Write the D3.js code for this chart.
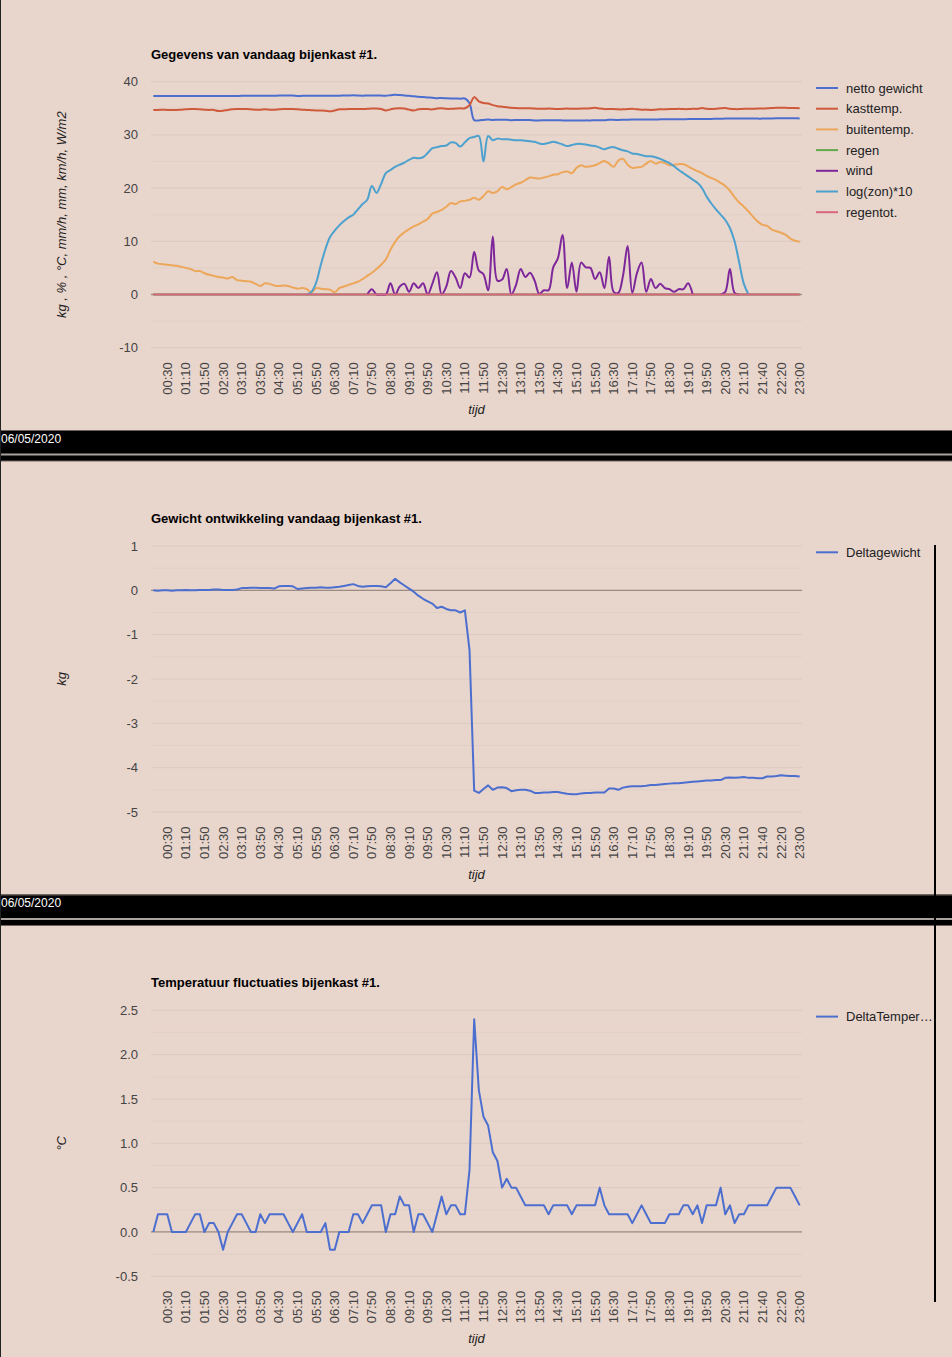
<!DOCTYPE html>
<html><head><meta charset="utf-8">
<script src="https://cdn.jsdelivr.net/npm/d3@7"></script>
<style>
html,body{margin:0;padding:0;background:#e8d5cc;}
svg{display:block;}
</style></head>
<body><svg id="c" width="952" height="1357"></svg>
<script>
// ---------- DATA ----------
const times = [
"00:00","00:10","00:20","00:30","00:40","00:50",
"01:00","01:10","01:20","01:30","01:40","01:50",
"02:00","02:10","02:20","02:30","02:40","02:50",
"03:00","03:10","03:20","03:30","03:40","03:50",
"04:00","04:10","04:20","04:30","04:40","04:50",
"05:00","05:10","05:20","05:30","05:40","05:50",
"06:00","06:10","06:20","06:30","06:40","06:50",
"07:00","07:10","07:20","07:30","07:40","07:50",
"08:00","08:10","08:20","08:30","08:40","08:50",
"09:00","09:10","09:20","09:30","09:40","09:50",
"10:00","10:10","10:20","10:30","10:40","10:50",
"11:00","11:10","11:20","11:30","11:40","11:50",
"12:00","12:10","12:20","12:30","12:40","12:50",
"13:00","13:10","13:20","13:30","13:40","13:50",
"14:00","14:10","14:20","14:30","14:40","14:50",
"15:00","15:10","15:20","15:30","15:40","15:50",
"16:00","16:10","16:20","16:30","16:40","16:50",
"17:00","17:10","17:20","17:30","17:40","17:50",
"18:00","18:10","18:20","18:30","18:40","18:50",
"19:00","19:10","19:20","19:30","19:40","19:50",
"20:00","20:10","20:20","20:30","20:40","20:50",
"21:00","21:10","21:20","21:25","21:30","21:40","21:50",
"22:00","22:10","22:20","22:30","22:40","22:50","23:00"];

const xTickLabels = ["00:30","01:10","01:50","02:30","03:10","03:50","04:30","05:10","05:50",
"06:30","07:10","07:50","08:30","09:10","09:50","10:30","11:10","11:50","12:30","13:10",
"13:50","14:30","15:10","15:50","16:30","17:10","17:50","18:30","19:10","19:50","20:30",
"21:10","21:40","22:20","23:00"];

const nettoGewicht = [
37.3,37.29,37.3,37.3,37.29,37.3,37.3,37.31,37.3,37.3,
37.31,37.31,37.31,37.32,37.32,37.31,37.31,37.31,37.32,37.35,
37.35,37.36,37.36,37.35,37.35,37.35,37.34,37.39,37.4,37.4,
37.39,37.33,37.34,37.35,37.36,37.36,37.37,37.36,37.36,37.37,
37.38,37.4,37.42,37.44,37.4,37.38,37.39,37.4,37.4,37.39,
37.37,37.46,37.56,37.48,37.41,37.34,37.27,37.18,37.11,37.05,
37.0,36.9,36.93,36.88,36.85,36.85,36.8,36.85,35.95,32.78,
32.73,32.82,32.9,32.8,32.85,32.86,32.84,32.77,32.79,32.8,
32.8,32.78,32.73,32.73,32.74,32.74,32.75,32.75,32.73,32.71,
32.7,32.7,32.72,32.73,32.73,32.74,32.74,32.74,32.83,32.83,
32.8,32.85,32.87,32.88,32.88,32.88,32.89,32.91,32.91,32.92,
32.93,32.94,32.95,32.95,32.96,32.97,32.98,32.99,33.0,33.01,
33.01,33.02,33.02,33.07,33.08,33.07,33.08,33.09,33.07,33.07,
33.06,33.06,33.1,33.1,33.11,33.13,33.12,33.11,33.11,33.1];

const kastTemp = [
34.7,34.7,34.75,34.7,34.7,34.7,34.75,34.8,34.85,34.85,
34.8,34.75,34.7,34.7,34.5,34.55,34.7,34.8,34.85,34.85,
34.85,34.8,34.75,34.75,34.8,34.75,34.75,34.8,34.85,34.85,
34.85,34.8,34.75,34.7,34.65,34.6,34.6,34.55,34.45,34.6,
34.8,34.8,34.85,34.85,34.85,34.85,34.9,34.95,34.95,34.85,
34.6,34.8,34.95,35.0,34.95,34.75,34.6,34.8,34.85,34.85,
34.8,34.95,35.0,34.9,34.9,34.95,35.0,35.0,35.6,37.1,
36.3,36.0,35.9,35.6,35.4,35.3,35.2,35.1,35.05,35.0,
35.0,35.0,34.95,34.9,34.9,34.95,34.9,34.85,34.9,34.95,
34.9,34.9,34.95,34.95,35.0,35.1,34.95,34.85,34.85,34.85,
34.8,34.8,34.85,34.9,34.8,34.75,34.75,34.7,34.75,34.8,
34.8,34.85,34.85,34.9,34.85,34.85,34.9,34.9,35.05,34.9,
34.85,34.9,35.0,35.05,34.9,34.85,34.85,34.9,34.9,34.9,
34.95,34.95,35.0,35.05,35.1,35.1,35.1,35.05,35.05,35.0];

const buitenTemp = [
6.2,5.8,5.7,5.6,5.5,5.4,5.2,5.0,4.8,4.4,
4.4,4.0,3.7,3.5,3.3,3.2,3.0,3.3,2.7,2.6,
2.5,2.4,2.0,1.6,2.1,2.0,1.7,1.6,1.7,1.6,
1.3,1.1,1.2,1.0,0.4,1.2,1.1,1.0,0.9,0.4,
1.2,1.5,1.8,2.1,2.4,2.9,3.5,4.1,4.8,5.6,
6.6,8.4,9.9,11.0,11.7,12.3,12.8,13.2,13.7,14.2,
15.2,15.5,15.9,16.5,17.2,17.0,17.5,17.6,17.8,18.2,
17.8,18.5,19.4,19.1,19.4,20.2,19.8,20.2,20.7,21.0,
21.5,22.0,21.9,21.8,22.0,22.2,22.5,22.6,23.0,23.1,
22.8,23.8,24.3,24.0,24.1,24.3,24.7,25.1,24.6,24.0,
25.2,25.5,24.4,23.8,23.9,24.0,24.6,25.1,24.6,24.9,
24.7,24.3,24.4,24.5,24.5,24.1,23.6,23.2,22.8,22.3,
21.9,21.5,21.0,20.4,19.5,18.3,17.3,16.5,15.6,14.6,
13.7,13.1,12.9,12.2,11.9,11.6,11.2,10.5,10.1,9.9];

const regen = [
0,0,0,0,0,0,0,0,0,0, 0,0,0,0,0,0,0,0,0,0, 0,0,0,0,0,0,0,0,0,0, 0,0,0,0,0,0,0,0,0,0,
0,0,0,0,0,0,0,0,0,0, 0,0,0,0,0,0,0,0,0,0, 0,0,0,0,0,0,0,0,0,0, 0,0,0,0,0,0,0,0,0,0,
0,0,0,0,0,0,0,0,0,0, 0,0,0,0,0,0,0,0,0,0, 0,0,0,0,0,0,0,0,0,0, 0,0,0,0,0,0,0,0,0,0,
0,0,0,0,0,0,0,0,0,0, 0,0,0,0,0,0,0,0,0,0];

const wind = [
null,null,null,null,null,null,null,null,null,null,
null,null,null,null,null,null,null,null,null,null,
null,null,null,null,null,null,null,null,null,null,
null,null,null,null,null,null,null,null,null,null,
null,null,null,null,null,null,0,1.0,0,0,
0,2.1,0,1.5,2.0,0.5,2.1,1.2,2.1,0,
2.0,4.2,0,1.5,4.4,3.2,1.2,4.0,3.2,8.0,
4.5,3.8,0.8,10.9,2.6,2.8,4.8,0,1.8,4.8,
3.3,4.1,2.6,0.1,0.8,0.8,5.1,6.8,11.2,1.2,
6.0,0.5,6.0,5.1,5.0,2.9,4.2,1.2,7.1,0.5,
0.3,3.5,9.1,0.3,4.0,6.0,0.5,2.9,1.2,2.0,
1.2,1.0,0.5,1.0,1.0,2.1,0,null,null,null,
null,null,0,0.5,4.8,0.3,0,null,null,null,
null,null,null,null,null,null,null,null,null,null];

const logZon = [
null,null,null,null,null,null,null,null,null,null,
null,null,null,null,null,null,null,null,null,null,
null,null,null,null,null,null,null,null,null,null,
null,null,null,0,0.5,2.2,5.5,8.5,10.8,12.0,
13.0,13.8,14.5,15.0,16.0,17.0,17.8,20.4,19.1,20.8,
22.8,23.4,24.0,24.4,24.8,25.3,25.7,25.6,25.8,26.6,
27.5,27.7,27.9,28.0,28.6,28.5,27.8,28.6,29.4,29.6,
29.8,25.0,29.8,29.0,29.3,29.2,29.2,29.1,29.0,29.0,
28.9,28.8,28.7,28.4,28.3,28.5,28.7,28.5,28.2,27.9,
28.1,28.3,28.3,28.2,28.0,27.9,27.6,27.3,27.6,27.7,
27.4,27.1,26.9,26.5,26.4,26.2,26.0,26.0,25.8,25.5,
25.1,24.7,24.1,23.4,22.8,22.2,21.6,21.0,20.0,18.4,
17.1,16.0,15.0,14.0,12.5,10.0,6.0,2.0,0,null,
null,null,null,null,null,null,null,null,null,null];

const regenTot = [
0,0,0,0,0,0,0,0,0,0, 0,0,0,0,0,0,0,0,0,0, 0,0,0,0,0,0,0,0,0,0, 0,0,0,0,0,0,0,0,0,0,
0,0,0,0,0,0,0,0,0,0, 0,0,0,0,0,0,0,0,0,0, 0,0,0,0,0,0,0,0,0,0, 0,0,0,0,0,0,0,0,0,0,
0,0,0,0,0,0,0,0,0,0, 0,0,0,0,0,0,0,0,0,0, 0,0,0,0,0,0,0,0,0,0, 0,0,0,0,0,0,0,0,0,0,
0,0,0,0,0,0,0,0,0,0, 0,0,0,0,0,0,0,0,0,0];

const deltaGewicht = [
0.0,-0.01,0.0,0.0,-0.01,0.0,0.0,0.01,0.0,0.0,
0.01,0.01,0.01,0.02,0.02,0.01,0.01,0.01,0.02,0.05,
0.05,0.06,0.06,0.05,0.05,0.05,0.04,0.09,0.1,0.1,
0.09,0.03,0.04,0.05,0.06,0.06,0.07,0.06,0.06,0.07,
0.08,0.1,0.12,0.14,0.1,0.08,0.09,0.1,0.1,0.09,
0.07,0.16,0.26,0.18,0.11,0.04,-0.03,-0.12,-0.19,-0.25,
-0.3,-0.4,-0.37,-0.42,-0.45,-0.45,-0.5,-0.45,-1.35,-4.52,
-4.57,-4.48,-4.40,-4.5,-4.45,-4.44,-4.46,-4.53,-4.51,-4.5,
-4.5,-4.52,-4.57,-4.57,-4.56,-4.56,-4.55,-4.55,-4.57,-4.59,
-4.6,-4.6,-4.58,-4.57,-4.57,-4.56,-4.56,-4.56,-4.47,-4.47,
-4.5,-4.45,-4.43,-4.42,-4.42,-4.42,-4.41,-4.39,-4.39,-4.38,
-4.37,-4.36,-4.35,-4.35,-4.34,-4.33,-4.32,-4.31,-4.3,-4.29,
-4.29,-4.28,-4.28,-4.23,-4.22,-4.23,-4.22,-4.21,-4.23,-4.23,
-4.24,-4.24,-4.2,-4.2,-4.19,-4.17,-4.18,-4.19,-4.19,-4.2];

const deltaTemp = [
0,0.2,0.2,0.2,0,0,0,0,0.1,0.2,
0.2,0,0.1,0.1,0,-0.2,0,0.1,0.2,0.2,
0.1,0,0,0.2,0.1,0.2,0.2,0.2,0.2,0.1,
0,0.1,0.2,0,0,0,0,0.1,-0.2,-0.2,
0,0,0,0.2,0.2,0.1,0.2,0.3,0.3,0.3,
0,0.2,0.2,0.4,0.3,0.3,0,0.2,0.2,0.1,
0,0.2,0.4,0.2,0.3,0.3,0.2,0.2,0.7,2.4,
1.6,1.3,1.2,0.9,0.8,0.5,0.6,0.5,0.5,0.4,
0.3,0.3,0.3,0.3,0.3,0.2,0.3,0.3,0.3,0.3,
0.2,0.3,0.3,0.3,0.3,0.3,0.5,0.3,0.2,0.2,
0.2,0.2,0.2,0.1,0.2,0.3,0.2,0.1,0.1,0.1,
0.1,0.2,0.2,0.2,0.3,0.3,0.2,0.3,0.1,0.3,
0.3,0.3,0.5,0.2,0.3,0.1,0.2,0.2,0.3,0.3,
0.3,0.3,0.3,0.4,0.5,0.5,0.5,0.5,0.4,0.3];

const seriesNames1 = ["netto gewicht","kasttemp.","buitentemp.","regen","wind","log(zon)*10","regentot."];
const seriesColors1 = ["#4c6fcf","#cf5a3b","#eda75a","#62a84c","#7e279b","#4da1cf","#d8677f"];

const yTicks1 = [-10,0,10,20,30,40];
const yMinor1 = [-5,5,15,25,35];
const yTicks2 = [-5,-4,-3,-2,-1,0,1];
const yMinor2 = [-4.5,-3.5,-2.5,-1.5,-0.5,0.5];
const yTicks3 = [-0.5,0,0.5,1,1.5,2,2.5];
const yMinor3 = [-0.25,0.25,0.75,1.25,1.75,2.25];

const titles = ["Gegevens van vandaag bijenkast #1.","Gewicht ontwikkeling vandaag bijenkast #1.","Temperatuur fluctuaties bijenkast #1."];
const yTitles = ["kg , % , °C, mm/h, mm, km/h, W/m2","kg","°C"];
const dateLabel = "06/05/2020";

// ---------- DRAW ----------
const svg = d3.select("#c");
const FONT = "Arial, 'Liberation Sans', sans-serif";
const L = 151, R = 802, PH = 266;
const offsets = [0, 464.3, 928.6];
const PT = 81.7;

svg.append("rect").attr("width",952).attr("height",1357).attr("fill","#e8d5cc");

const x = d3.scaleBand().domain(times).range([L, R]);
const bw = x.bandwidth();
const xc = t => x(t) + bw/2;

function drawChart(k, cfg){
  const off = offsets[k];
  const top = PT + off, bot = top + PH;
  const g = svg.append("g");
  const y = d3.scaleLinear().domain(cfg.domain).range([bot, top]);
  g.selectAll(".mn").data(cfg.minor).enter().append("line")
    .attr("x1",L).attr("x2",R).attr("y1",d=>y(d)).attr("y2",d=>y(d))
    .attr("stroke","#e0d0c8").attr("stroke-width",1);
  g.selectAll(".mj").data(cfg.major).enter().append("line")
    .attr("x1",L).attr("x2",R).attr("y1",d=>y(d)).attr("y2",d=>y(d))
    .attr("stroke","#dbcac2").attr("stroke-width",1);
  g.append("line").attr("x1",L).attr("x2",R).attr("y1",y(0)).attr("y2",y(0))
    .attr("stroke","#9c8c84").attr("stroke-width",1.3);
  g.selectAll(".yl").data(cfg.major).enter().append("text")
    .attr("x",138).attr("y",d=>y(d)).attr("dy","0.35em").attr("text-anchor","end")
    .attr("font-family",FONT).attr("font-size",13).attr("fill","#444")
    .text(d=>cfg.fmt(d));
  const line = d3.line().defined(d=>d.v!=null).x(d=>xc(d.t)).y(d=>y(d.v)).curve(cfg.curve);
  cfg.series.forEach(s=>{
    g.append("path").datum(times.map((t,i)=>({t, v:s.data[i]})))
      .attr("d",line).attr("fill","none").attr("stroke",s.color).attr("stroke-width",2)
      .attr("stroke-linejoin","round");
  });
  g.selectAll(".xl").data(xTickLabels).enter().append("text")
    .attr("transform",d=>`translate(${xc(d)+4.6},${bot+14.5}) rotate(-90)`)
    .attr("text-anchor","end").attr("font-family",FONT).attr("font-size",13).attr("fill","#444")
    .text(d=>d);
  g.append("text").attr("x",(L+R)/2).attr("y",bot+66.5).attr("text-anchor","middle")
    .attr("font-family",FONT).attr("font-size",13).attr("font-style","italic").attr("fill","#222").text("tijd");
  g.append("text").attr("transform",`translate(66,${(top+bot)/2}) rotate(-90)`)
    .attr("text-anchor","middle").attr("font-family",FONT).attr("font-size",13).attr("font-style","italic")
    .attr("fill","#222").text(cfg.ytitle);
  g.append("text").attr("x",L).attr("y",58.5+off).attr("font-family",FONT).attr("font-size",13)
    .attr("font-weight","bold").attr("fill","#000").text(cfg.title);
  cfg.series.forEach((s,i)=>{
    const ly = 88 + off + 20.7*i;
    g.append("line").attr("x1",816).attr("x2",838).attr("y1",ly).attr("y2",ly)
      .attr("stroke",s.color).attr("stroke-width",2);
    g.append("text").attr("x",846).attr("y",ly).attr("dy","0.35em").attr("font-family",FONT)
      .attr("font-size",13).attr("fill","#222").text(s.label);
  });
}

const data1 = [nettoGewicht,kastTemp,buitenTemp,regen,wind,logZon,regenTot];
drawChart(0,{domain:[-10,40],major:yTicks1,minor:yMinor1,fmt:d=>String(d),
  curve:d3.curveCatmullRom.alpha(0.5),title:titles[0],ytitle:yTitles[0],
  series:data1.map((d,i)=>({data:d,color:seriesColors1[i],label:seriesNames1[i]}))});
drawChart(1,{domain:[-5,1],major:yTicks2,minor:yMinor2,fmt:d=>String(d),
  curve:d3.curveLinear,title:titles[1],ytitle:yTitles[1],
  series:[{data:deltaGewicht,color:"#4c6fcf",label:"Deltagewicht"}]});
drawChart(2,{domain:[-0.5,2.5],major:yTicks3,minor:yMinor3,fmt:d=>d.toFixed(1),
  curve:d3.curveLinear,title:titles[2],ytitle:yTitles[2],
  series:[{data:deltaTemp,color:"#4c6fcf",label:"DeltaTemper…"}]});

[430, 894.5].forEach(by=>{
  svg.append("rect").attr("x",0).attr("y",by).attr("width",952).attr("height",31).attr("fill","#000");
  svg.append("line").attr("x1",0).attr("x2",952).attr("y1",by+0.5).attr("y2",by+0.5).attr("stroke","#6e625c");
  svg.append("line").attr("x1",0).attr("x2",952).attr("y1",by+24.5).attr("y2",by+24.5).attr("stroke","#a9a29f").attr("stroke-width",2);
  svg.append("line").attr("x1",0).attr("x2",952).attr("y1",by+31).attr("y2",by+31).attr("stroke","#6e625c");
  svg.append("text").attr("x",1).attr("y",by+12.5).attr("font-family","'Liberation Sans Narrow', 'Arial Narrow', Arial, sans-serif")
    .attr("font-size",12).attr("fill","#fff").text(dateLabel);
});
svg.append("line").attr("x1",0.5).attr("x2",0.5).attr("y1",0).attr("y2",1357).attr("stroke","#222");
svg.append("line").attr("x1",935).attr("x2",935).attr("y1",545).attr("y2",1302).attr("stroke","#000").attr("stroke-width",2);
</script></body></html>
